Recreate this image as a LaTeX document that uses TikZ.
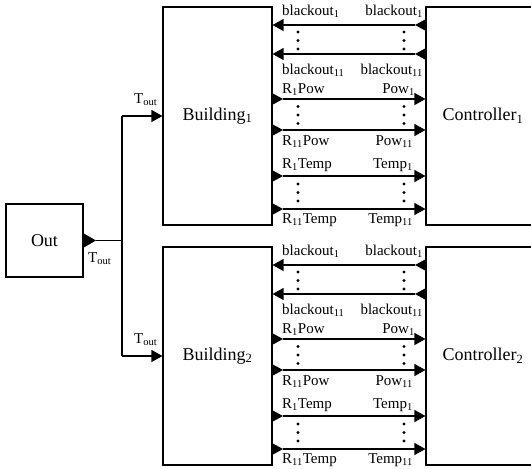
\documentclass[tikz,border=0pt]{standalone}
\usepackage{fontspec}
\setmainfont{Liberation Serif}
\usetikzlibrary{arrows.meta}
\begin{document}
\begin{tikzpicture}[x=1pt,y=-1pt,
  blk/.style={draw, line width=1.1pt, inner sep=0pt, font=\fontsize{18}{20}\selectfont},
  sig/.style={line width=1.3pt, -{Triangle[length=11pt,width=12pt]}},
  wire/.style={line width=1.3pt},
  lbl/.style={inner sep=0pt, font=\fontsize{15}{17}\selectfont},
  dotc/.style={fill=black}
]
\useasboundingbox (0,0) rectangle (531,469);
\clip (0,0) rectangle (531,469);

% Out block
\node[blk, minimum width=77pt, minimum height=73pt] (out) at (44.5,240.5) {Out};
\coordinate (outp) at (96,240.5);
\fill (83,233) -- (83,248) -- (outp) -- cycle;
\node[lbl, anchor=base west] (toutlbl) at (88,262) {T\textsubscript{out}};
\coordinate (j) at (122,240.5);
\coordinate (j1) at (122,116);
\coordinate (j2) at (122,356);
\draw[wire] (outp) -- (j);
\draw[wire] (j1) -- (j2);

\foreach \k/\dy in {1/0,2/240}{
  \node[blk, minimum width=109pt, minimum height=218pt] (B\k) at (217.5,116+\dy) {Building\textsubscript{\k}};
  \node[blk, minimum width=114pt, minimum height=218pt] (C\k) at (483,116+\dy) {Controller\textsubscript{\k}};
  % Tout input
  \draw[sig] (j\k) -- (B\k.west);
  \node[lbl, anchor=base west] (tin\k) at (134,103+\dy) {T\textsubscript{out}};
  % blackout rows (controller -> building)
  \foreach \r/\yy in {a/25,b/54}{
    \coordinate (Cb\k\r) at (415,\yy+\dy);
    \fill (426,\yy+\dy-6) -- (426,\yy+\dy+6) -- (Cb\k\r) -- cycle;
    \draw[sig] (Cb\k\r) -- (B\k.east |- Cb\k\r);
  }
  % Pow and Temp rows (building -> controller)
  \foreach \r/\yy in {c/99,d/130,e/176,f/209}{
    \coordinate (Bp\k\r) at (283,\yy+\dy);
    \fill (272,\yy+\dy-6) -- (272,\yy+\dy+6) -- (Bp\k\r) -- cycle;
    \draw[sig] (Bp\k\r) -- (C\k.west |- Bp\k\r);
  }
  % dots
  \foreach \yy in {32,40.5,49,106.5,115,123.5,184,192.5,201}{
    \fill (298,\yy+\dy) circle (1.6pt);
    \fill (404,\yy+\dy) circle (1.6pt);
  }
  % labels
  \node[lbl, anchor=base west] (l\k a) at (282,15+\dy) {blackout\textsubscript{1}};
  \node[lbl, anchor=base east] (r\k a) at (423,15+\dy) {blackout\textsubscript{1}};
  \node[lbl, anchor=base west] (l\k b) at (282,74+\dy) {blackout\textsubscript{11}};
  \node[lbl, anchor=base east] (r\k b) at (423,74+\dy) {blackout\textsubscript{11}};
  \node[lbl, anchor=base west] (l\k c) at (282,93+\dy) {R\textsubscript{1}Pow};
  \node[lbl, anchor=base east] (r\k c) at (415,93+\dy) {Pow\textsubscript{1}};
  \node[lbl, anchor=base west] (l\k d) at (282,145+\dy) {R\textsubscript{11}Pow};
  \node[lbl, anchor=base east] (r\k d) at (413,145+\dy) {Pow\textsubscript{11}};
  \node[lbl, anchor=base west] (l\k e) at (282,168+\dy) {R\textsubscript{1}Temp};
  \node[lbl, anchor=base east] (r\k e) at (413,168+\dy) {Temp\textsubscript{1}};
  \node[lbl, anchor=base west] (l\k f) at (282,223+\dy) {R\textsubscript{11}Temp};
  \node[lbl, anchor=base east] (r\k f) at (413,223+\dy) {Temp\textsubscript{11}};
}
\end{tikzpicture}
\end{document}
